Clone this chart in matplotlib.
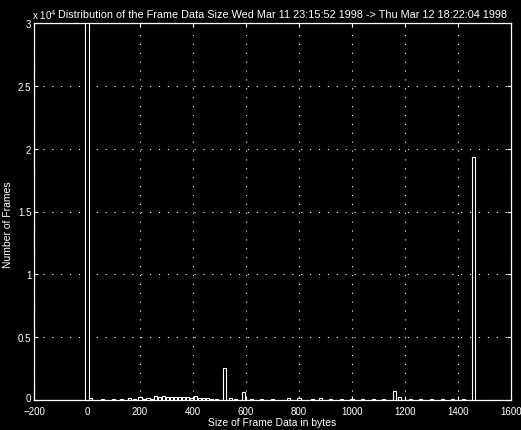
import matplotlib
matplotlib.use("Agg")
import matplotlib.pyplot as plt
import matplotlib.transforms as mtransforms
from matplotlib.ticker import FuncFormatter

# Histogram of frame data sizes (bin centres in bytes, frame counts)
bin_centers = [0, 12, 60, 100, 130, 160, 180, 200, 215, 230, 245, 260, 275, 290,
               305, 320, 335, 350, 365, 380, 395, 410, 425, 440, 455, 470, 490,
               518, 540, 560, 590, 620, 660, 700, 760, 800, 850, 880, 920, 960,
               1000, 1040, 1080, 1120, 1160, 1180, 1220, 1260, 1300, 1340, 1380,
               1420, 1460]
frame_counts = [30000, 150, 60, 90, 80, 120, 70, 260, 90, 150, 110, 300, 260, 280,
                240, 200, 250, 230, 210, 240, 190, 300, 150, 120, 130, 100, 90,
                2550, 150, 100, 640, 80, 70, 60, 180, 120, 60, 150, 100, 60,
                110, 70, 60, 80, 700, 200, 60, 50, 40, 60, 50,
                80, 19300]

x_ticks = [-200, 0, 200, 400, 600, 800, 1000, 1200, 1400, 1600]
y_ticks = [0, 5000, 10000, 15000, 20000, 25000, 30000]

title = ("Distribution of the Frame Data Size Wed Mar 11 23:15:52 1998 "
         "-> Thu Mar 12 18:22:04 1998")

plt.rcParams["font.family"] = ["Liberation Sans", "DejaVu Sans"]
fg = "white"

fig = plt.figure(figsize=(5.21, 4.31), dpi=100, facecolor="black")
ax = fig.add_axes([34 / 521, 1 - 401 / 431, (511 - 34) / 521, (401 - 24) / 431])
ax.set_facecolor("black")

ax.bar(bin_centers, frame_counts, width=12, facecolor="black",
       edgecolor=fg, linewidth=0.8, zorder=3)

ax.set_xlim(-200, 1600)
ax.set_ylim(0, 30000)
ax.set_xticks(x_ticks)
ax.set_yticks(y_ticks)
ax.yaxis.set_major_formatter(FuncFormatter(lambda v, p: f"{v / 1e4:g}"))

for s in ax.spines.values():
    s.set_color(fg)
    s.set_linewidth(0.9)
ax.tick_params(direction="in", colors=fg, labelcolor=fg, labelsize=7,
               length=3, width=0.8, top=True, right=True)
ax.tick_params(axis="x", pad=4)
ax.tick_params(axis="y", pad=2)
ax.grid(True, color=fg, linestyle=(0, (1, 7)), linewidth=0.8)
ax.set_axisbelow(True)

# lift the y "0" label a little so it sits above the "-200" x label
fig.canvas.draw()
zero_label = ax.get_yticklabels()[0]
zero_label.set_transform(zero_label.get_transform() +
                         mtransforms.ScaledTranslation(0, 3 / 100, fig.dpi_scale_trans))

ax.set_title(title, color=fg, fontsize=7.8, pad=4, x=0.52)
ax.set_xlabel("Size of Frame Data in bytes", color=fg, fontsize=7.5, labelpad=1)
fig.text(8 / 521, 1 - 225 / 431, "Number of Frames", color=fg, fontsize=7.5,
         rotation=90, ha="center", va="center")
ax.text(-0.005, 1.005, r"x 10$^4$", transform=ax.transAxes, color=fg,
        fontsize=7, ha="left", va="bottom")

fig.savefig("out.png", dpi=100, facecolor="black")
